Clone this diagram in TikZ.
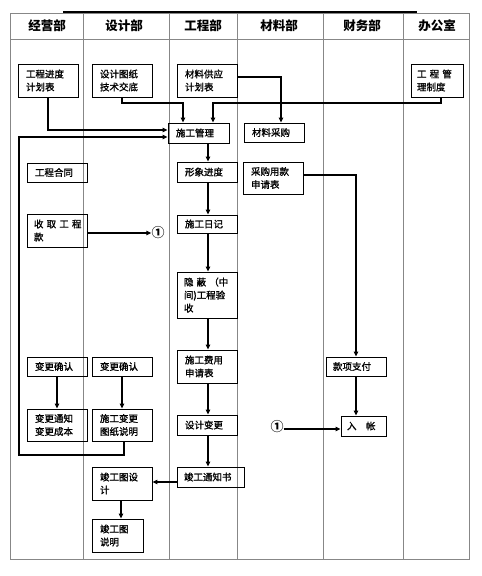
\documentclass[tikz,border=0pt]{standalone}
\usepackage{fontspec}
\newfontfamily\cjk{Noto Sans CJK SC}
\newfontfamily\cjkfb[FakeBold=1.2]{Noto Sans CJK SC}
\usetikzlibrary{arrows.meta}
\newcommand\bnode[7]{%
  \pgfmathsetmacro\bw{#4-#2-2*#6}%
  \node[bx, minimum width={#4-#2}, minimum height={#5-#3}, text width=\bw pt, inner xsep=#6pt] (#1) at ({(#2+#4)/2},{(#3+#5)/2}) {#7};}
\begin{document}
\begin{tikzpicture}[x=1pt,y=-1pt,
  bx/.style={draw=black, line width=0.9pt, inner ysep=1pt, align=left, font=\cjkfb\fontsize{9.5}{13}\selectfont},
  hd/.style={font=\cjk\bfseries\fontsize{12.5}{14}\selectfont, inner sep=0pt},
  grid/.style={draw=black!47, line width=0.9pt},
  ln/.style={line width=1.5pt},
  ar/.style={ln, -{Triangle[length=5pt,width=4.5pt]}},
  circ/.style={font=\cjk\bfseries\fontsize{13}{13}\selectfont, inner sep=0pt}]
\useasboundingbox (0,0) rectangle (482,576);
\fill[white] (0,0) rectangle (482,576);
% table
\draw[grid] (10,13.5) rectangle (469,559);
\foreach \xx in {83,169,237,323,403} \draw[grid] (\xx,13.5) -- (\xx,559);
\draw[grid] (10,39) -- (469,39);
\draw[line width=1.2pt] (63,12) -- (417,12);
% headers
\node[hd] (h1) at (47,26) {经营部};
\node[hd] (h2) at (124,26) {设计部};
\node[hd] (h3) at (203,26) {工程部};
\node[hd] (h4) at (279,26) {材料部};
\node[hd] (h5) at (362,26) {财务部};
\node[hd] (h6) at (437,26) {办公室};
% boxes
\bnode{b1}{18}{64}{78}{97}{8}{工程进度\\计划表}
\bnode{b2}{92}{64}{152}{97}{8}{设计图纸\\技术交底}
\bnode{b3}{177}{64}{237}{97}{8}{材料供应\\计划表}
\bnode{b4}{411}{64}{463}{97}{6}{工~程~管\\理制度}
\bnode{b5}{168}{123}{229}{143}{8}{施工管理}
\bnode{b6}{244}{123}{304}{142}{8}{材料采购}
\bnode{b7}{27}{163}{87}{182}{8}{工程合同}
\bnode{b8}{177}{162}{237}{182}{8}{形象进度}
\bnode{b9}{243}{162}{303}{194}{8}{采购用款\\申请表}
\bnode{b10}{27}{214}{87}{247}{7}{收~取~工~程\\款}
\bnode{b11}{177}{215}{237}{233}{8}{施工日记}
\bnode{b12}{177}{272}{237}{318}{7}{隐~蔽~（中\\间)工程验\\收}
\bnode{b13}{177}{350}{237}{383}{8}{施工费用\\申请表}
\bnode{b14}{27}{357}{87}{376}{8}{变更确认}
\bnode{b15}{92}{357}{152}{376}{8}{变更确认}
\bnode{b16}{326}{357}{386}{376}{7}{款项支付}
\bnode{b17}{27}{409}{87}{441}{8}{变更通知\\变更成本}
\bnode{b18}{92}{409}{152}{441}{8}{施工变更\\图纸说明}
\bnode{b19}{177}{415}{237}{435}{8}{设计变更}
\bnode{b20}{341}{416}{386}{436}{6}{入~~~帐}
\bnode{b21}{92}{467}{152}{500}{8}{竣工图设\\计}
\bnode{b22}{177}{467}{244}{487}{7}{竣工通知书}
\bnode{b23}{92}{519}{143}{552}{8}{竣工图\\说明}
\node[circ] (c1) at (158,233) {①};
\node[circ] (c2) at (277,427) {①};
% connectors
\draw[ar] (b1.south) |- (b5.west |- 0,130);
\draw[ar] (b2.south) |- (183,103) -- (183,0 |- b5.north);
\draw[ar] (441,0 |- b4.south) |- (213,103) -- (213,0 |- b5.north);
\draw[ar] (b3.east |- 0,77) -| (281,0 |- b6.north);
\draw[ar] (124,0 |- b18.south) |- (19,455) |- (b5.west |- 0,137);
\draw[ar] (208,0 |- b5.south) -- (208,0 |- b8.north);
\draw[ar] (208,0 |- b8.south) -- (208,0 |- b11.north);
\draw[ar] (208,0 |- b11.south) -- (208,0 |- b12.north);
\draw[ar] (208,0 |- b12.south) -- (208,0 |- b13.north);
\draw[ar] (208,0 |- b13.south) -- (208,0 |- b19.north);
\draw[ar] (208,0 |- b19.south) -- (208,0 |- b22.north);
\draw[ar] (b9.east |- 0,175) -| (b16.north);
\draw[ar] (b16.south) -- (b16.south |- b20.north);
\draw[ar] (b14.south) -- (b17.north);
\draw[ar] (b15.south) -- (b15.south |- b18.north);
\draw[ar] (b10.east |- 0,233) -- (c1.west);
\draw[ar] (c2.east |- 0,429) -- (b20.west |- 0,429);
\draw[ar] (b22.west |- 0,482) -- (b21.east |- 0,482);
\draw[ar] (121,0 |- b21.south) -- (121,0 |- b23.north);
\end{tikzpicture}
\end{document}
